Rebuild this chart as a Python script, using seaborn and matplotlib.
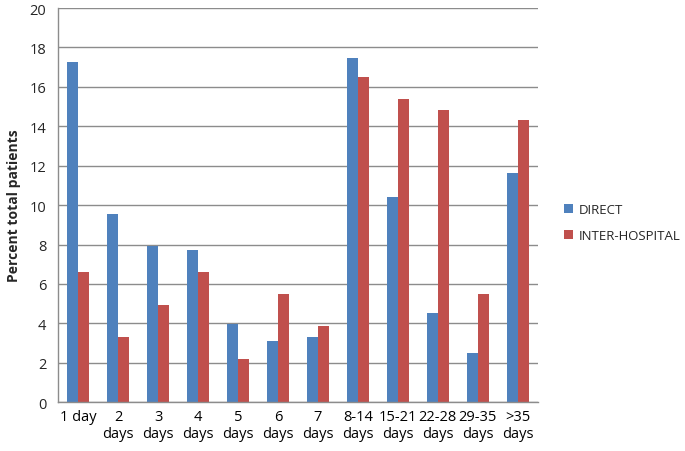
import numpy as np
import pandas as pd
import matplotlib
matplotlib.use("Agg")
import matplotlib.pyplot as plt
import seaborn as sns

categories = ["1 day", "2\ndays", "3\ndays", "4\ndays", "5\ndays", "6\ndays", "7\ndays",
              "8-14\ndays", "15-21\ndays", "22-28\ndays", "29-35\ndays", ">35\ndays"]
direct = [17.25, 9.55, 7.9, 7.7, 3.95, 3.1, 3.3, 17.45, 10.4, 4.55, 2.5, 11.65]
inter_hospital = [6.6, 3.3, 4.95, 6.6, 2.2, 5.5, 3.85, 16.5, 15.4, 14.85, 5.5, 14.3]
series = ["DIRECT", "INTER-HOSPITAL"]
colours = ["#4F81BD", "#C0504D"]

df = pd.DataFrame({
    "period": categories * 2,
    "value": direct + inter_hospital,
    "group": [series[0]] * len(categories) + [series[1]] * len(categories),
})

sns.set_style("white")
plt.rcParams['font.family'] = ['Open Sans', 'DejaVu Sans']

fig = plt.figure(figsize=(6.85, 4.52), dpi=100)
ax = fig.add_axes([0.085, 0.108, 0.70, 0.872])

sns.barplot(data=df, x="period", y="value", hue="group", palette=colours,
            width=0.56, gap=0, saturation=1, linewidth=0, ax=ax, legend=True)

ax.set_ylim(0, 20)
ax.set_xlim(-0.5, len(categories) - 0.5)
ax.set_yticks(np.arange(0, 21, 2))
ax.yaxis.grid(True, color="#8c8c8c", linewidth=1)
ax.set_axisbelow(True)

for s in ["top", "right"]:
    ax.spines[s].set_visible(False)
for s in ["left", "bottom"]:
    ax.spines[s].set_color("#8c8c8c")
    ax.spines[s].set_linewidth(1)

ax.set_xticks(np.arange(-0.5, len(categories), 1), minor=True)
ax.tick_params(axis="x", which="major", length=0, labelsize=10.5, colors="#000000", pad=5)
ax.tick_params(axis="x", which="minor", length=5, color="#8c8c8c", direction="out")
ax.tick_params(axis="y", length=5, color="#8c8c8c", direction="out", labelsize=10.5)

ax.set_xlabel("")
ax.set_ylabel("Percent total patients", fontsize=10, fontweight="bold", labelpad=6)

handles, labels = ax.get_legend_handles_labels()
ax.legend_.remove()
fig.legend(handles, labels, loc="center left", bbox_to_anchor=(0.823, 0.505),
           frameon=False, fontsize=9.5, handlelength=0.7, handleheight=0.7,
           handletextpad=0.4, labelspacing=0.95, borderaxespad=0, borderpad=0)

fig.savefig("out.png", dpi=100)
